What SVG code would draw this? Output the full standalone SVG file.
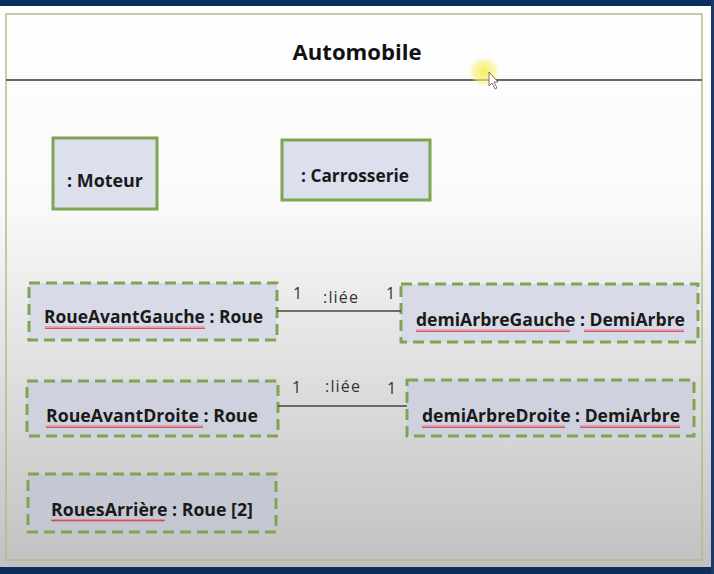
<svg xmlns="http://www.w3.org/2000/svg" width="714" height="574" viewBox="0 0 714 574">
<defs>
<linearGradient id="bg" x1="0" y1="0" x2="0" y2="1">
<stop offset="0" stop-color="#ffffff"/>
<stop offset="0.35" stop-color="#fafafa"/>
<stop offset="1" stop-color="#c0c0c0"/>
</linearGradient>
<radialGradient id="glow">
<stop offset="0" stop-color="#f5ee4a" stop-opacity="0.9"/>
<stop offset="0.7" stop-color="#f7f07a" stop-opacity="0.6"/>
<stop offset="1" stop-color="#f7f07a" stop-opacity="0"/>
</radialGradient>
<pattern id="wave" width="4" height="3" patternUnits="userSpaceOnUse">
<polyline points="0,2.5 1,0.5 2,2.5 3,0.5 4,2.5" fill="none" stroke="#e0303a" stroke-width="0.8"/>
</pattern>
</defs>
<style>
.solid{stroke:#7ea553;stroke-width:3}
.dash{stroke:#7ea553;stroke-width:3;stroke-dasharray:11 6}
.lbl{font-family:"Open Sans","Liberation Sans",sans-serif;font-weight:700;font-size:17px;fill:#1a1a1a}
.small{font-family:"Open Sans","Liberation Sans",sans-serif;font-size:16px;fill:#333}
.conn{stroke:#444;stroke-width:1.5;fill:none}
</style>
<rect x="0" y="0" width="714" height="574" fill="url(#bg)"/>
<rect x="0" y="0" width="714" height="6" fill="#0b2f5c"/>
<rect x="0" y="567" width="714" height="7" fill="#0b2f5c"/>
<rect x="711" y="0" width="3" height="574" fill="#173a66"/>
<g id="frame">
<rect x="6" y="14" width="696" height="546" fill="none" stroke="#aebd8c" stroke-width="1.5"/>
<line x1="6" y1="80" x2="702" y2="80" stroke="#666" stroke-width="2"/>
<text x="357" y="60" text-anchor="middle" font-family="Open Sans, Liberation Sans, sans-serif" font-weight="700" font-size="21" fill="#111" textLength="129" lengthAdjust="spacingAndGlyphs">Automobile</text>
</g>
<circle cx="484" cy="72" r="15" fill="url(#glow)"/>
<polygon points="489,72 489,86 492,83 495,89 497,88 494,82 498,82" fill="#fff" stroke="#555" stroke-width="0.8"/>
<g id="moteur">
<rect x="53" y="138" width="104" height="71" fill="#dcdfec" class="solid"/>
<text x="67" y="187" class="lbl" textLength="76" lengthAdjust="spacingAndGlyphs">: Moteur</text>
</g>
<g id="carrosserie">
<rect x="282" y="140" width="148" height="60" fill="#dcdfec" class="solid"/>
<text x="301" y="182" class="lbl" textLength="108" lengthAdjust="spacingAndGlyphs">: Carrosserie</text>
</g>
<g id="roueAvantGauche">
<rect x="29" y="283" width="248" height="57" fill="#d8dbe7" class="dash"/>
<text x="44" y="323" class="lbl" textLength="219" lengthAdjust="spacingAndGlyphs">RoueAvantGauche : Roue</text>
<rect x="45" y="326" width="160" height="3" fill="url(#wave)"/>
</g>
<g id="demiArbreGauche">
<rect x="401" y="284" width="297" height="58" fill="#d8dbe7" class="dash"/>
<text x="416" y="326" class="lbl" textLength="269" lengthAdjust="spacingAndGlyphs">demiArbreGauche : DemiArbre</text>
<rect x="416" y="329" width="154" height="3" fill="url(#wave)"/>
<rect x="584" y="329" width="100" height="3" fill="url(#wave)"/>
</g>
<g id="roueAvantDroite">
<rect x="27" y="381" width="251" height="55" fill="#cfd2de" class="dash"/>
<text x="46" y="422" class="lbl" textLength="212" lengthAdjust="spacingAndGlyphs">RoueAvantDroite : Roue</text>
<rect x="46" y="425" width="157" height="3" fill="url(#wave)"/>
</g>
<g id="demiArbreDroite">
<rect x="407" y="380" width="287" height="56" fill="#cfd2de" class="dash"/>
<text x="422" y="422" class="lbl" textLength="258" lengthAdjust="spacingAndGlyphs">demiArbreDroite : DemiArbre</text>
<rect x="422" y="425" width="143" height="3" fill="url(#wave)"/>
<rect x="580" y="425" width="100" height="3" fill="url(#wave)"/>
</g>
<g id="rouesArriere">
<rect x="28" y="474" width="248" height="58" fill="#c5c7d3" class="dash"/>
<text x="51" y="516" class="lbl" textLength="202" lengthAdjust="spacingAndGlyphs">RouesArrière : Roue [2]</text>
<rect x="51" y="519" width="114" height="3" fill="url(#wave)"/>
</g>
<g id="connectors">
<line x1="277" y1="311" x2="401" y2="311" class="conn"/>
<text x="293" y="299" class="small">1</text>
<text x="323" y="303" class="small" textLength="35">:liée</text>
<text x="386" y="299" class="small">1</text>
<line x1="278" y1="406" x2="407" y2="406" class="conn"/>
<text x="292" y="393" class="small">1</text>
<text x="325" y="392" class="small" textLength="35">:liée</text>
<text x="387" y="394" class="small">1</text>
</g>
</svg>
